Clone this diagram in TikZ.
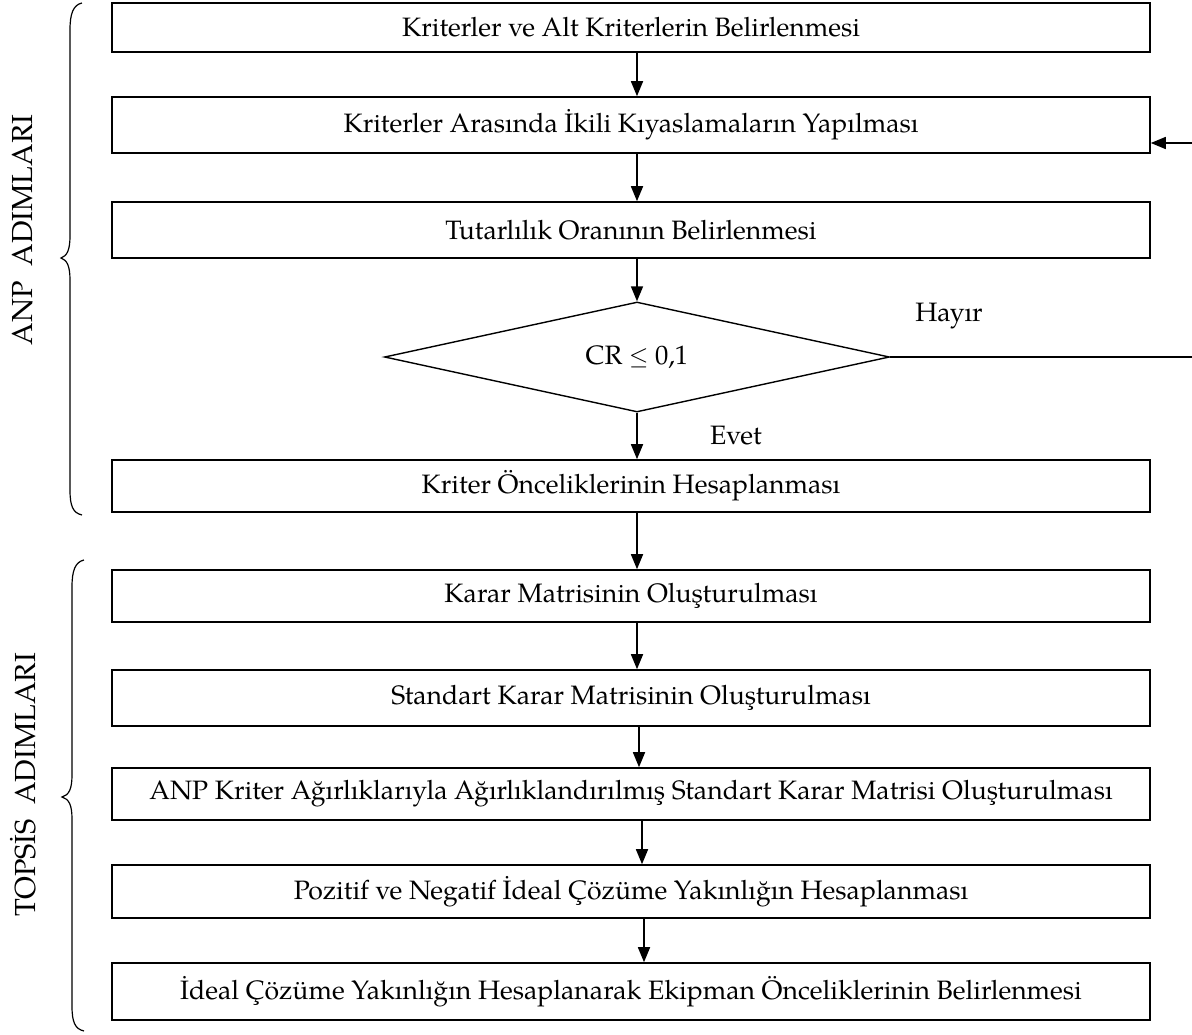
\documentclass[tikz,border=0pt]{standalone}
\usepackage{fontspec}
\setmainfont{TeX Gyre Pagella}
\usetikzlibrary{arrows.meta,shapes.geometric}
\begin{document}
\begin{tikzpicture}[x=1pt,y=-1pt,
  box/.style={draw,line width=1.6pt,minimum width=1038pt,minimum height=#1,inner sep=0pt,
    font=\fontsize{26.6}{30}\selectfont},
  box/.default=52pt,
  dia/.style={draw,shape=diamond,aspect=4.6,line width=1.4pt,minimum width=505pt,minimum height=110pt,
    inner sep=0pt,font=\fontsize{26.6}{30}\selectfont},
  arr/.style={line width=1.6pt,-{Triangle[width=12pt,length=15pt]}},
  ln/.style={line width=1.4pt},
  lbl/.style={font=\fontsize{26.6}{30}\selectfont},
  side/.style={font=\fontsize{29}{33}\selectfont,rotate=90},
  brace/.style={line width=1.2pt}
]
\useasboundingbox (0,0) rectangle (1192,1034);

\node[box=49pt] (b1) at (631,27.5) {Kriterler ve Alt Kriterlerin Belirlenmesi};
\node[box=56pt] (b2) at (631,125) {Kriterler Arasında İkili Kıyaslamaların Yapılması};
\node[box=56pt] (b3) at (631,230) {Tutarlılık Oranının Belirlenmesi};
\node[dia] (d) at (637,357) {CR $\leq$ 0,1};
\node[box=52pt] (b4) at (631,486) {Kriter Önceliklerinin Hesaplanması};
\node[box=52pt] (b5) at (631,596) {Karar Matrisinin Oluşturulması};
\node[box=56pt] (b6) at (631,698) {Standart Karar Matrisinin Oluşturulması};
\node[box=52pt] (b7) at (631,794) {ANP Kriter Ağırlıklarıyla Ağırlıklandırılmış Standart Karar Matrisi Oluşturulması};
\node[box=53pt] (b8) at (631,891.5) {Pozitif ve Negatif İdeal Çözüme Yakınlığın Hesaplanması};
\node[box=57pt] (b9) at (631,991.5) {İdeal Çözüme Yakınlığın Hesaplanarak Ekipman Önceliklerinin Belirlenmesi};

\draw[arr] ([xshift=6pt]b1.south) -- ([xshift=6pt]b2.north);
\draw[arr] ([xshift=6pt]b2.south) -- ([xshift=6pt]b3.north);
\draw[arr] ([xshift=6pt]b3.south) -- (d.north);
\draw[arr] (d.south) -- (d.south |- b4.north);
\draw[arr] ([xshift=6pt]b4.south) -- ([xshift=6pt]b5.north);
\draw[arr] ([xshift=6pt]b5.south) -- ([xshift=6pt]b6.north);
\draw[arr] ([xshift=8pt]b6.south) -- ([xshift=8pt]b7.north);
\draw[arr] ([xshift=11pt]b7.south) -- ([xshift=11pt]b8.north);
\draw[arr] ([xshift=13pt]b8.south) -- ([xshift=13pt]b9.north);

\coordinate (fb1) at (1192,357);
\coordinate (fb2) at (1192,143);
\draw[ln] (d.east) -- (fb1);
\draw[arr] (fb2) -- (b2.east |- fb2);

\node[lbl] (hayir) at (949,316) {Hayır};
\node[lbl] (evet) at (736,436) {Evet};

\draw[brace] (82,3) .. controls (73,5) and (70,14) .. (70,30) -- (70,236)
  .. controls (70,250) and (67,256) .. (61,258)
  .. controls (67,260) and (70,266) .. (70,280) -- (70,490)
  .. controls (70,506) and (73,513) .. (82,515);
\draw[brace] (84,560) .. controls (75,562) and (72,571) .. (72,587) -- (72,775)
  .. controls (72,789) and (69,795) .. (62,797)
  .. controls (69,799) and (72,805) .. (72,819) -- (72,1006)
  .. controls (72,1022) and (75,1029) .. (84,1031);

\node[side] (anp) at (23,230) {ANP\ \ ADIMLARI};
\node[side] (top) at (23,785) {TOPSİS\ \ ADIMLARI};
\end{tikzpicture}
\end{document}
